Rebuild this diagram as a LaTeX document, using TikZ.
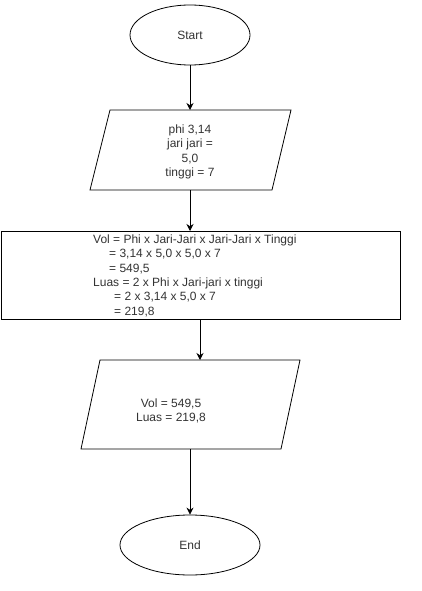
\documentclass[tikz,border=0pt]{standalone}
\usepackage{fontspec}
\setmainfont{Liberation Sans}
\usetikzlibrary{arrows.meta,shapes.geometric}
\begin{document}
\begin{tikzpicture}[x=1pt,y=-1pt,
  every node/.style={font=\fontsize{12}{14.4}\selectfont, text=black!80},
  term/.style={draw, ellipse, line width=0.8pt},
  frame/.style={inner sep=0pt, outer sep=0pt},
  shapeline/.style={draw, line width=0.8pt},
  flow/.style={line width=0.8pt, -{Stealth[length=7pt,width=7pt]}}]
\useasboundingbox (0,0) rectangle (421,591);

% terminals
\node[term, minimum width=120pt, minimum height=60pt] (start) at (190,35) {Start};
\node[term, minimum width=140pt, minimum height=60pt] (stop) at (190,545) {End};

% input parallelogram
\draw[shapeline] (110,110) -- (291,110) -- (272,190) -- (90,190) -- cycle;
\node[frame, minimum width=201pt, minimum height=80pt] (inp) at (190.5,150) {};
\node[align=center] at (190,152) {phi 3,14\\jari jari =\\5,0\\tinggi = 7};

% process box
\node[frame, draw, line width=0.8pt, minimum width=399pt, minimum height=88pt] (proc) at (200.5,275) {};
\node[align=left, anchor=north west, inner sep=0pt] at (93,234.5) {%
Vol = Phi x Jari-Jari x Jari-Jari x Tinggi\\
\hspace*{16pt}= 3,14 x 5,0 x 5,0 x 7\\
\hspace*{16pt}= 549,5\\
Luas = 2 x Phi x Jari-jari x tinggi\\
\hspace*{21pt}= 2 x 3,14 x 5,0 x 7\\
\hspace*{21pt}= 219,8};

% output parallelogram
\draw[shapeline] (100,360) -- (300,360) -- (281,449) -- (81,449) -- cycle;
\node[frame, minimum width=219pt, minimum height=89pt] (outp) at (190.5,404.5) {};
\node[align=center] at (171,411) {Vol = 549,5\\Luas = 219,8};

% connectors
\draw[flow] (start.south) -- (start.south |- inp.north);
\draw[flow] (inp.south -| start.south) -- (start.south |- proc.north);
\draw[flow] (proc.south -| 200,0) -- (outp.north -| 200,0);
\draw[flow] (outp.south -| stop.north) -- (stop.north);
\end{tikzpicture}
\end{document}
